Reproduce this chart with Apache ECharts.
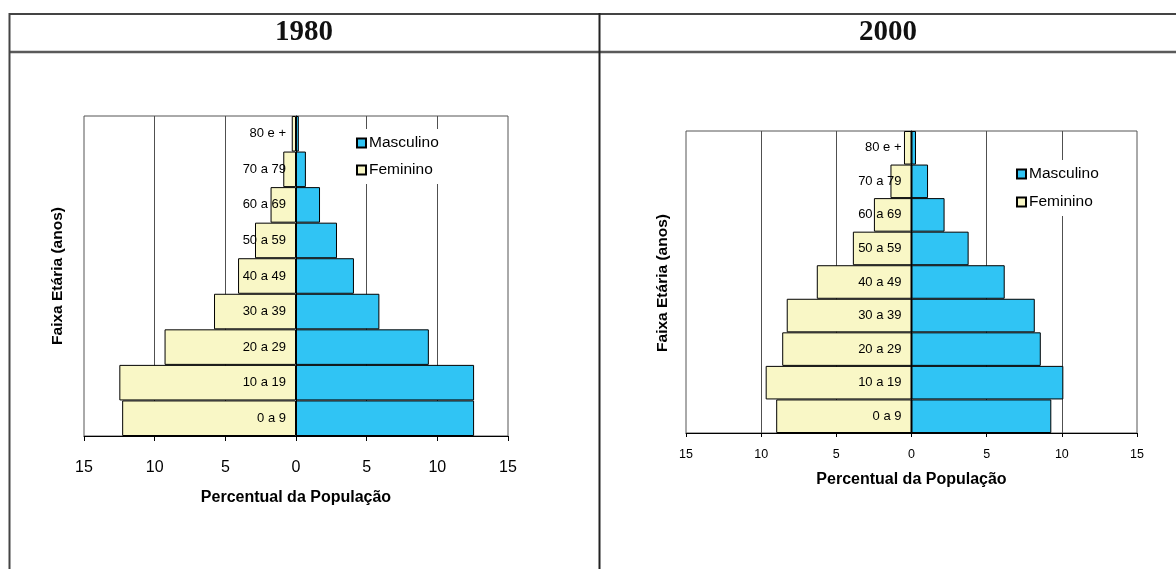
<!DOCTYPE html>
<html>
<head>
<meta charset="utf-8">
<script src="https://cdn.jsdelivr.net/npm/echarts@6/dist/echarts.min.js"></script>
<style>
html,body{margin:0;padding:0;background:#fff;}
#c{width:1176px;height:569px;}
</style>
</head>
<body>
<div id="c"></div>
<script>
var categories = ['0 a 9','10 a 19','20 a 29','30 a 39','40 a 49','50 a 59','60 a 69','70 a 79','80 e +'];
var fem1980  = [12.3, 12.5, 9.3, 5.8, 4.1, 2.9, 1.8, 0.9, 0.3];
var masc1980 = [12.6, 12.6, 9.4, 5.9, 4.1, 2.9, 1.7, 0.7, 0.2];
var fem2000  = [9.0, 9.7, 8.6, 8.3, 6.3, 3.9, 2.5, 1.4, 0.5];
var masc2000 = [9.3, 10.1, 8.6, 8.2, 6.2, 3.8, 2.2, 1.1, 0.3];
var panelTitles = ['1980', '2000'];
var xName = 'Percentual da População';
var yName = 'Faixa Etária (anos)';
var serieNames = ['Masculino', 'Feminino'];

var MASC = '#30C4F4', FEM = '#F9F7C6';
var FONT = '"Liberation Sans", Arial, sans-serif';

function neg(a){ return a.map(function(v){ return -v; }); }

var chart = echarts.init(document.getElementById('c'), null, {renderer:'canvas'});

var grids = [
  {left: 84, top: 116, width: 424, height: 320},
  {left: 686, top: 131, width: 451, height: 302}
];

function xAxisCfg(idx, fs, margin, gap, tickLen, nfs){
  return {
    gridIndex: idx, type: 'value', min: -15, max: 15, interval: 5,
    axisLine: {show: true, onZero: false, lineStyle: {color: '#000', width: 1}},
    axisTick: {show: true, inside: false, length: tickLen, lineStyle: {color: '#000'}},
    axisLabel: {fontFamily: FONT, fontSize: fs, color: '#000', margin: margin,
      formatter: function(v){ return Math.abs(v); }},
    splitLine: {show: true, showMinLine: false, showMaxLine: false, lineStyle: {color: '#505050', width: 1}},
    name: xName, nameLocation: 'middle', nameGap: gap,
    nameTextStyle: {fontFamily: FONT, fontSize: nfs, fontWeight: 'bold', color: '#000'}
  };
}
function yAxisCfg(idx, fs){
  return {
    gridIndex: idx, type: 'category', data: categories, z: 5,
    position: 'left', offset: -grids[idx].width / 2,
    axisLine: {show: true, onZero: false, lineStyle: {color: '#000', width: 1}},
    axisTick: {show: false},
    axisLabel: {fontFamily: FONT, fontSize: fs, color: '#000', margin: 10},
    splitLine: {show: false}
  };
}
function bar(name, idx, data, color){
  return {
    name: name, type: 'bar', xAxisIndex: idx, yAxisIndex: idx, data: data,
    barGap: '-100%', barCategoryGap: '0%',
    itemStyle: {color: color, borderColor: '#000', borderWidth: 1},
    emphasis: {disabled: true}, animation: false
  };
}
function legendCfg(left, top, gap){
  return {
    left: left, top: top, orient: 'vertical', data: serieNames,
    itemWidth: 9, itemHeight: 9, itemGap: gap, padding: [6, 6, 6, 6],
    backgroundColor: '#fff', selectedMode: false, icon: 'rect',
    textStyle: {fontFamily: FONT, fontSize: 15.5, color: '#000', padding: [0,0,0,-2]}
  };
}

var frame = '#444';
chart.setOption({
  animation: false,
  backgroundColor: '#fff',
  grid: grids.map(function(g){
    return {left: g.left, top: g.top, width: g.width, height: g.height, show: true,
      backgroundColor: '#fff', borderColor: '#555', borderWidth: 1};
  }),
  xAxis: [xAxisCfg(0, 16, 24, 54, 5, 16), xAxisCfg(1, 12.5, 15, 39, 4, 16)],
  yAxis: [yAxisCfg(0, 13), yAxisCfg(1, 13)],
  legend: [legendCfg(350, 129, 11), legendCfg(1010, 160, 12)],
  series: [
    bar(serieNames[1], 0, neg(fem1980), FEM),
    bar(serieNames[0], 0, masc1980, MASC),
    bar(serieNames[1], 1, neg(fem2000), FEM),
    bar(serieNames[0], 1, masc2000, MASC)
  ],
  graphic: [
    {type: 'line', shape: {x1: 9, y1: 14, x2: 1176, y2: 14}, style: {stroke: frame, lineWidth: 2}},
    {type: 'line', shape: {x1: 9, y1: 52, x2: 1176, y2: 52}, style: {stroke: '#5a5a5a', lineWidth: 2.5}},
    {type: 'line', shape: {x1: 9.5, y1: 13, x2: 9.5, y2: 569}, style: {stroke: frame, lineWidth: 2}},
    {type: 'line', shape: {x1: 599.5, y1: 13, x2: 599.5, y2: 569}, style: {stroke: '#222', lineWidth: 2}},
    {type: 'text', x: 304, y: 33, style: {text: panelTitles[0], font: 'bold 29px "Liberation Serif", "Times New Roman", serif', fill: '#111', align: 'center', verticalAlign: 'middle'}},
    {type: 'text', x: 888, y: 33, style: {text: panelTitles[1], font: 'bold 29px "Liberation Serif", "Times New Roman", serif', fill: '#111', align: 'center', verticalAlign: 'middle'}},
    {type: 'text', x: 58, y: 276, rotation: Math.PI/2, style: {text: yName, font: 'bold 15.5px ' + FONT, fill: '#000', align: 'center', verticalAlign: 'middle'}},
    {type: 'text', x: 663, y: 283, rotation: Math.PI/2, style: {text: yName, font: 'bold 15.5px ' + FONT, fill: '#000', align: 'center', verticalAlign: 'middle'}}
  ]
});
</script>
</body>
</html>
